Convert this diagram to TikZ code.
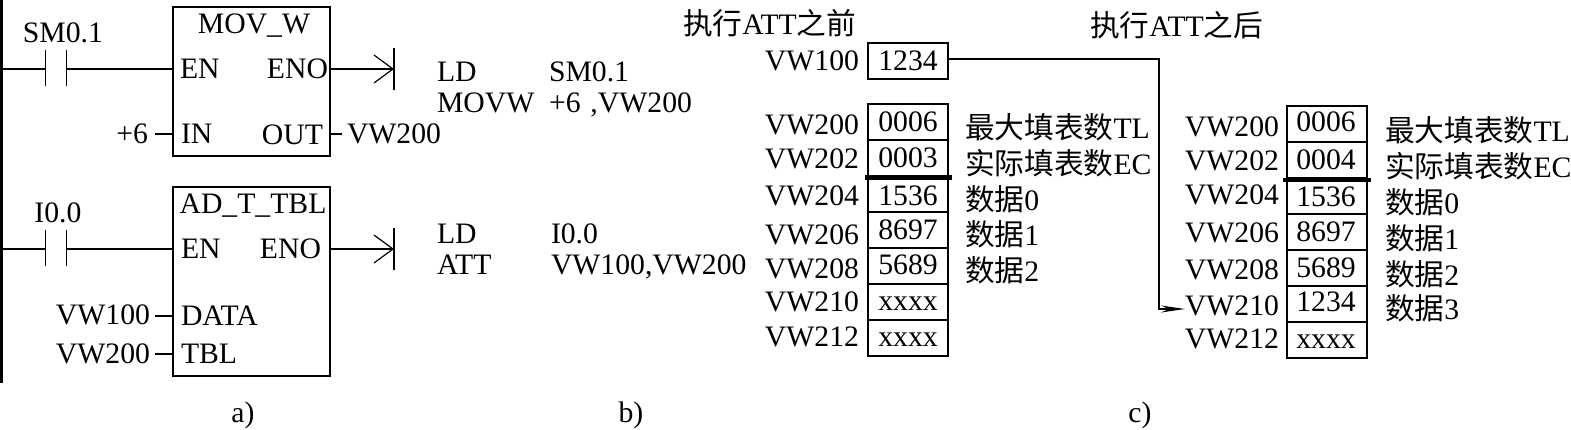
\documentclass[tikz,border=0pt]{standalone}
\usepackage{fontspec}
\setmainfont{Liberation Serif}
\newfontfamily\cjk{Noto Sans CJK SC}
\usetikzlibrary{arrows.meta}
\tikzset{
  every node/.style={inner sep=0pt,outer sep=0pt,font=\fontsize{29.7}{30}\selectfont,text height=19.6pt,text depth=0pt},
  wire/.style={line width=1.5pt},
  rail/.style={line width=3pt},
  blockbox/.style={draw,line width=1.3pt,anchor=north west,text height=,text depth=},
  cellbox/.style={draw,line width=1.3pt,minimum width=80pt,minimum height=36pt,text height=,text depth=},
  tw/.style={anchor=west},
  te/.style={anchor=east},
  tc/.style={anchor=center},
  flow/.style={wire,-{Straight Barb[length=19pt,width=28pt,line width=1.2pt]}},
  thickrule/.style={line width=4.5pt}
}
\begin{document}
\begin{tikzpicture}[x=1pt,y=-1pt]
\useasboundingbox (0,0) rectangle (1571,429);
\fill[white] (0,0) rectangle (1571,429);
% rail
\coordinate (railT) at (1,0); \coordinate (railB) at (1,383);
\draw[rail] (railT) -- (railB);
% blocks
\node[blockbox,minimum width=157pt,minimum height=149pt] (b1) at (173,7) {};
\node[blockbox,minimum width=157pt,minimum height=189pt] (b2) at (173,187) {};
\node[tc] (t1) at (254,24) {MOV\_W};
\node[tc] (t2) at (253,204) {AD\_T\_TBL};
\node[tw] at (180,69) {EN};
\node[te] at (328,69) {ENO};
\node[tw] at (181,134) {IN};
\node[te] at (323,135) {OUT};
\node[tw] at (181,249) {EN};
\node[te] at (321,249) {ENO};
\node[tw] at (181,316) {DATA};
\node[tw] at (181,354) {TBL};
% contacts
\node[tc] at (63,33) {SM0.1};
\node[tc] at (58,213) {I0.0};
\coordinate (c1a) at (45.5,69); \coordinate (c1b) at (66.5,69);
\coordinate (c2a) at (45.5,249); \coordinate (c2b) at (66.5,249);
\draw[wire] (railT |- c1a) -- (c1a);
\draw[wire] (c1b) -- (b1.west |- c1b);
\draw[wire] (railT |- c2a) -- (c2a);
\draw[wire] (c2b) -- (b2.west |- c2b);
\draw[wire] (45.5,50) -- (45.5,86) (66.5,50) -- (66.5,86);
\draw[wire] (45.5,230) -- (45.5,266) (66.5,230) -- (66.5,266);
% outputs
\coordinate (e1) at (394,69); \coordinate (e2) at (394,249);
\draw[flow] (b1.east |- e1) -- (e1);
\draw[flow] (b2.east |- e2) -- (e2);
\draw[wire] (394,48) -- (394,90) (394,228) -- (394,270);
% pins
\node[te] (p6) at (148,134) {+6};
\node[tw] (pv) at (347,134) {VW200};
\node[te] (pd) at (150,315) {VW100};
\node[te] (pt) at (150,354) {VW200};
\draw[wire] (155,134) -- (b1.west |- p6);
\draw[wire] (b1.east |- pv) -- (342,134);
\draw[wire] (155,316) -- (173,316);
\draw[wire] (155,354) -- (b2.west |- pt);
% instructions
\node[tw] at (437,72) {LD};
\node[tw] at (549,72) {SM0.1};
\node[tw] at (437,103) {MOVW};
\node[tw] at (549,103) {+6\,\,,VW200};
\node[tw] at (437,234) {LD};
\node[tw] at (551,234) {I0.0};
\node[tw] at (437,265) {ATT};
\node[tw] at (551,265) {VW100,VW200};
% captions
\node[tc] at (243,413) {a)};
\node[tc] at (631,413) {b)};
\node[tc] at (1140,413) {c)};
\node[tw] at (683,25) {{\cjk 执行}ATT{\cjk 之前}};
\node[tw] at (1090,27) {{\cjk 执行}ATT{\cjk 之后}};
% table before
\node[cellbox] (src) at (908,61) {};
\node[tc] at (908,61) {1234};
\node[te] at (859,61) {VW100};
\foreach \n/\y/\v/\ly/\lab/\vy in {0/122/0006/125/VW200/122,1/158/0003/159/VW202/158,2/194/1536/196/VW204/196,3/230/8697/235/VW206/230,4/266/5689/269/VW208/265,5/302/xxxx/302/VW210/301,6/338/xxxx/337/VW212/337}{
  \node[cellbox] (a\n) at (908,\y) {};
  \node[tc] at (908,\vy) {\v};
  \node[te] at (859,\ly) {\lab};
}
\draw[thickrule] (865,177.5) -- (952,177.5);
\node[tw] at (965,129) {{\cjk 最大填表数}TL};
\node[tw] at (965,165) {{\cjk 实际填表数}EC};
\node[tw] at (965,201) {{\cjk 数据}0};
\node[tw] at (965,236) {{\cjk 数据}1};
\node[tw] at (965,272) {{\cjk 数据}2};
% table after
\foreach \n/\y/\v/\ly/\lab/\vy in {0/124/0006/127/VW200/122,1/160/0004/161/VW202/160,2/196/1536/195/VW204/197,3/232/8697/233/VW206/232,4/268/5689/270/VW208/268,5/304/1234/306/VW210/302,6/340/xxxx/339/VW212/339}{
  \node[cellbox] (d\n) at (1327,\y) {};
  \node[tc] at (1326,\vy) {\v};
  \node[te] at (1279,\ly) {\lab};
}
\coordinate (dest) at (1185,309);
\draw[thickrule] (1283,180) -- (1371,180);
\node[tw] at (1385,132) {{\cjk 最大填表数}TL};
\node[tw] at (1385,168) {{\cjk 实际填表数}EC};
\node[tw] at (1385,204) {{\cjk 数据}0};
\node[tw] at (1385,240) {{\cjk 数据}1};
\node[tw] at (1385,276) {{\cjk 数据}2};
\node[tw] at (1385,310) {{\cjk 数据}3};
% transfer
\coordinate (corner) at (1159,59);
\draw[wire,-{Stealth[length=24pt,width=7pt]}] (src.east |- corner) -- (corner) |- (dest);
\end{tikzpicture}
\end{document}
